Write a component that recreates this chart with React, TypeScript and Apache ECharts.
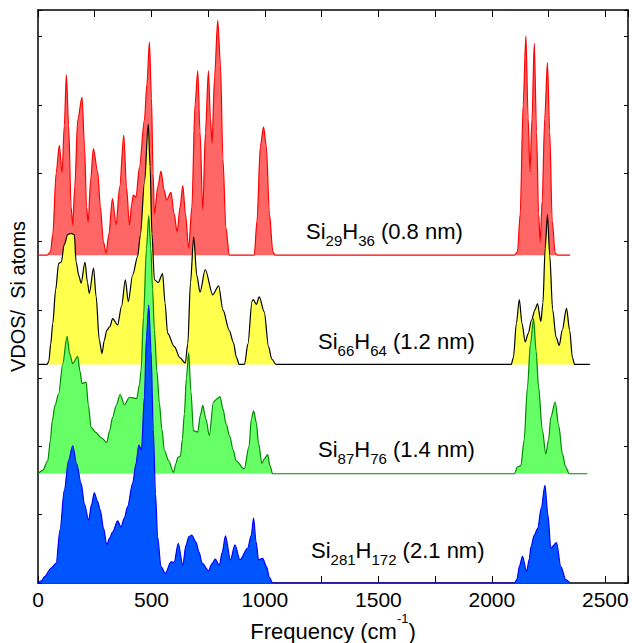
import React, { useEffect, useRef } from 'react';
import * as echarts from 'echarts';

const FONT = '"Liberation Sans", Arial, Helvetica, sans-serif';

// Si29H36 (0.8 nm)
const redFreq = [0, 40, 55, 65, 80, 94, 106, 116, 125, 135, 146, 153, 162, 175, 194, 205, 214, 221, 232, 244, 263, 275, 288, 300, 312, 328, 344, 360, 378, 390, 403, 413, 420, 432, 447, 469, 480, 491, 500, 507, 513, 528, 542, 556, 567, 586, 600, 613, 626, 638, 650, 664, 678, 692, 704, 714, 726, 738, 751, 760, 767, 778, 792, 804, 815, 828, 843, 953, 965, 980, 994, 1006, 1020, 1035, 1045, 2100, 2113, 2125, 2138, 2150, 2160, 2168, 2177, 2187, 2197, 2206, 2213, 2222, 2233, 2245, 2255, 2266, 2279, 2290, 2345];
const redVdos = [0, 0, 0.05, 0.3, 1.2, 1.61, 1.2, 1.9, 2.64, 1.9, 0.7, 0.44, 1.0, 1.98, 2.31, 1.6, 0.7, 0.48, 1.1, 1.56, 1.22, 0.7, 0.2, 0.03, 0.3, 0.83, 0.44, 1.0, 1.76, 1.0, 0.44, 0.75, 0.88, 0.85, 1.29, 1.98, 2.5, 3.12, 2.3, 1.2, 0.61, 1.0, 1.23, 0.95, 0.81, 0.92, 0.6, 0.34, 0.7, 1.02, 0.6, 0.1, 0.7, 2.2, 2.7, 1.8, 0.66, 1.8, 2.7, 2.0, 1.64, 2.6, 3.44, 2.8, 1.4, 0.4, 0, 0, 0.5, 1.6, 1.88, 1.6, 0.6, 0.05, 0, 0, 0.05, 0.6, 2.2, 3.21, 2.0, 1.22, 2.0, 3.1, 1.8, 0.6, 0.19, 0.8, 2.0, 2.82, 1.8, 0.5, 0.03, 0, 0];

// Si66H64 (1.2 nm)
const yellowFreq = [0, 40, 48, 56, 65, 78, 91, 103, 115, 131, 145, 160, 168, 180, 190, 207, 218, 226, 245, 256, 270, 282, 292, 303, 316, 329, 351, 368, 385, 398, 417, 439, 451, 469, 486, 494, 502, 513, 530, 549, 560, 571, 601, 625, 649, 660, 672, 686, 700, 714, 737, 770, 796, 815, 843, 861, 875, 887, 910, 925, 943, 949, 962, 975, 997, 1016, 1030, 1049, 2085, 2095, 2108, 2121, 2133, 2147, 2160, 2175, 2190, 2201, 2216, 2225, 2235, 2245, 2255, 2268, 2283, 2297, 2310, 2329, 2343, 2355, 2365, 2432];
const yellowVdos = [0, 0, 0.05, 0.3, 0.6, 1.1, 1.48, 1.5, 1.75, 1.9, 1.92, 1.9, 1.5, 1.3, 1.19, 1.5, 1.2, 1.04, 1.41, 1.0, 0.36, 0.16, 0.35, 0.5, 0.55, 0.67, 0.58, 0.85, 1.24, 0.92, 1.31, 1.58, 1.89, 2.66, 3.52, 2.9, 1.92, 1.24, 1.2, 1.33, 0.9, 0.46, 0.26, 0.1, 0.02, 0.3, 1.2, 1.87, 1.3, 1.06, 1.39, 1.02, 1.15, 0.8, 0.5, 0.32, 0.1, 0, 0, 0.3, 0.92, 0.95, 0.88, 0.99, 0.77, 0.26, 0.08, 0, 0, 0.1, 0.6, 0.95, 0.6, 0.33, 0.45, 0.65, 0.8, 0.89, 0.63, 0.9, 1.7, 2.19, 1.6, 0.8, 0.4, 0.28, 0.5, 0.82, 0.5, 0.1, 0, 0];

// Si87H76 (1.4 nm)
const greenFreq = [0, 21, 43, 55, 62, 75, 91, 109, 128, 140, 153, 175, 185, 194, 212, 222, 234, 253, 278, 303, 315, 329, 345, 362, 381, 403, 435, 447, 454, 465, 478, 488, 497, 505, 513, 524, 535, 546, 557, 576, 597, 608, 616, 628, 636, 645, 654, 664, 674, 685, 704, 715, 726, 740, 755, 773, 790, 802, 815, 829, 845, 860, 873, 909, 930, 940, 950, 962, 972, 987, 998, 1012, 1022, 1034, 2099, 2113, 2128, 2142, 2157, 2170, 2184, 2195, 2206, 2222, 2238, 2250, 2260, 2279, 2295, 2311, 2325, 2341, 2421];
const greenVdos = [0, 0.05, 0.19, 0.5, 0.76, 1.0, 1.17, 1.61, 2.01, 1.75, 1.61, 1.72, 1.5, 1.32, 1.34, 1.0, 0.68, 0.61, 0.53, 0.46, 0.62, 0.83, 1.0, 1.16, 1.01, 1.12, 1.1, 1.3, 1.51, 2.3, 3.3, 3.78, 3.3, 2.7, 2.1, 1.5, 1.03, 0.65, 0.34, 0.19, 0.02, 0.15, 0.24, 0.26, 0.5, 0.88, 1.4, 1.77, 1.2, 0.63, 0.61, 0.85, 1.0, 0.8, 0.56, 1.05, 1.1, 1.13, 0.95, 0.73, 0.55, 0.35, 0.19, 0.07, 0.4, 0.8, 0.92, 0.75, 0.44, 0.15, 0.22, 0.28, 0.12, 0, 0, 0.1, 0.12, 0.49, 1.27, 1.9, 2.27, 1.8, 1.27, 0.65, 0.29, 0.5, 0.83, 1.05, 0.7, 0.29, 0.1, 0, 0];

// Si281H172 (2.1 nm)
const blueFreq = [0, 15, 28, 58, 80, 97, 116, 135, 153, 170, 190, 205, 223, 236, 248, 262, 274, 289, 303, 316, 329, 351, 366, 380, 395, 417, 432, 444, 456, 469, 478, 488, 498, 508, 518, 527, 542, 561, 586, 600, 618, 638, 652, 665, 677, 696, 710, 723, 752, 766, 781, 799, 812, 826, 848, 868, 890, 924, 940, 950, 961, 972, 990, 1007, 1020, 1034, 2100, 2110, 2122, 2135, 2153, 2165, 2172, 2187, 2202, 2218, 2234, 2247, 2260, 2285, 2304, 2326, 2343];
const blueVdos = [0, 0.03, 0.09, 0.22, 0.29, 0.78, 1.36, 1.8, 2.01, 1.75, 1.46, 1.15, 0.92, 1.15, 1.32, 1.2, 1.07, 0.8, 0.56, 0.66, 0.75, 0.91, 0.82, 0.95, 1.12, 1.46, 1.75, 2.02, 1.95, 2.73, 3.6, 4.07, 3.4, 2.24, 1.3, 0.68, 0.24, 0.14, 0.31, 0.3, 0.58, 0.26, 0.55, 0.68, 0.7, 0.6, 0.45, 0.29, 0.18, 0.28, 0.35, 0.26, 0.45, 0.69, 0.34, 0.56, 0.34, 0.51, 0.7, 0.95, 0.6, 0.34, 0.36, 0.24, 0.08, 0, 0, 0.05, 0.25, 0.39, 0.17, 0.35, 0.53, 0.7, 0.8, 1.1, 1.43, 1.0, 0.51, 0.59, 0.24, 0.05, 0];

const xTicks = [0, 500, 1000, 1500, 2000, 2500];
const offsets = [4.8, 3.2, 1.6, 0];

export default function App() {
  const ref = useRef<HTMLDivElement>(null);
  useEffect(() => {
    if (!ref.current) return;
    const chart = echarts.init(ref.current, null, { renderer: 'svg' });
    const mk = (freq: number[], vdos: number[], off: number, line: string, fill: string) => ({
      type: 'line',
      data: freq.map((f, i) => [f, vdos[i] + off]),
      showSymbol: false,
      symbol: 'none',
      smooth: 0.3,
      smoothMonotone: 'x',
      silent: true,
      emphasis: { disabled: true },
      lineStyle: { color: line, width: 1.2 },
      areaStyle: { color: fill, opacity: 1, origin: off },
    });
    const axisLine = { show: true, onZero: false, lineStyle: { color: '#000', width: 1.5 } };
    const sub = { fontSize: 15, lineHeight: 15, verticalAlign: 'bottom', fontFamily: FONT, fill: '#000' };
    const main = { fontSize: 22, lineHeight: 34, fontFamily: FONT, fill: '#000' };
    const label = (x: number, y: number, text: string) => ({
      type: 'text', x, y, silent: true,
      style: { text, rich: { m: main, s: sub }, align: 'left', verticalAlign: 'middle', fill: '#000', font: `22px ${FONT}` },
    });
    chart.setOption({
      animation: false,
      backgroundColor: '#fff',
      grid: { left: 38, right: 4, top: 10, bottom: 60, containLabel: false, outerBoundsMode: 'none' },
      xAxis: [
        {
          type: 'value', min: 0, max: 2600, interval: 250, position: 'bottom',
          axisLine, splitLine: { show: false },
          axisTick: { inside: true, length: 7, lineStyle: { color: '#000', width: 1 } },
          axisLabel: {
            color: '#000', fontSize: 21, lineHeight: 13, fontFamily: FONT, margin: 10,
            formatter: (v: number) => (xTicks.indexOf(v) >= 0 ? String(v) : ''),
          },
          name: '{a|Frequency (cm}{b|-1}{a|)}',
          nameLocation: 'middle', nameGap: 29, nameMoveOverlap: false,
          nameTextStyle: {
            verticalAlign: 'top',
            rich: {
              a: { fontSize: 22, lineHeight: 22, verticalAlign: 'bottom', fontFamily: FONT, color: '#000' },
              b: { fontSize: 13, padding: [0, 0, 17, 0], verticalAlign: 'top', fontFamily: FONT, color: '#000' },
            },
          },
        },
        {
          type: 'value', min: 0, max: 2600, interval: 250, position: 'top',
          axisLine, splitLine: { show: false },
          axisTick: { inside: true, length: 7, lineStyle: { color: '#000', width: 1 } },
          axisLabel: { show: false },
        },
      ],
      yAxis: [
        {
          type: 'value', min: 0, max: 8.39, interval: 1, position: 'left',
          axisLine, splitLine: { show: false },
          axisTick: { inside: true, length: 4, lineStyle: { color: '#000', width: 1 } },
          axisLabel: { show: false },
          name: 'VDOS/  Si atoms', nameLocation: 'middle', nameGap: 10, nameMoveOverlap: false,
          nameTextStyle: { fontSize: 20, lineHeight: 20, fontFamily: FONT, color: '#000' },
        },
        {
          type: 'value', min: 0, max: 8.39, interval: 1, position: 'right',
          axisLine, splitLine: { show: false },
          axisTick: { inside: true, length: 4, lineStyle: { color: '#000', width: 1 } },
          axisLabel: { show: false },
        },
      ],
      series: [
        mk(redFreq, redVdos, offsets[0], '#ff0000', '#ff6666'),
        mk(yellowFreq, yellowVdos, offsets[1], '#000000', '#ffff4d'),
        mk(greenFreq, greenVdos, offsets[2], '#008800', '#66ff66'),
        mk(blueFreq, blueVdos, offsets[3], '#0000ff', '#0055ff'),
      ],
      graphic: [
        label(306, 231, '{m|Si}{s|29}{m|H}{s|36}{m| (0.8 nm)}'),
        label(318, 341, '{m|Si}{s|66}{m|H}{s|64}{m| (1.2 nm)}'),
        label(318, 449, '{m|Si}{s|87}{m|H}{s|76}{m| (1.4 nm)}'),
        label(311, 550, '{m|Si}{s|281}{m|H}{s|172}{m| (2.1 nm)}'),
      ],
    });
    return () => chart.dispose();
  }, []);
  return <div ref={ref} style={{ position: 'fixed', left: 0, top: 0, width: 632, height: 643 }} />;
}
